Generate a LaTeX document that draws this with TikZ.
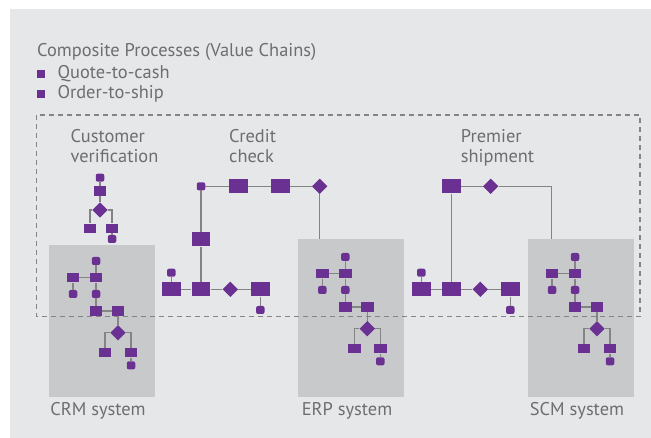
\documentclass[tikz,border=0pt]{standalone}
\usepackage{xcolor}
\usepackage{fontspec}
\setmainfont{PT Sans}
\usepackage{tikz}
\usetikzlibrary{shapes.geometric}

\definecolor{procpurple}{HTML}{6A3192}
\definecolor{sysgray}{HTML}{C8C9CB}
\definecolor{bggray}{HTML}{E6E7E8}
\definecolor{wiregray}{HTML}{848484}
\definecolor{txtgray}{HTML}{6D6E71}

\tikzset{
  bigbox/.style={rectangle, fill=procpurple, minimum width=18.7pt, minimum height=14.3pt, inner sep=0pt},
  smallbox/.style={rectangle, fill=procpurple, minimum width=12.5pt, minimum height=9.5pt, inner sep=0pt},
  event/.style={rectangle, rounded corners=2pt, fill=procpurple, minimum width=8.5pt, minimum height=8pt, inner sep=0pt},
  gate/.style={diamond, fill=procpurple, minimum width=15.5pt, minimum height=15.5pt, inner sep=0pt},
  bullet/.style={rectangle, fill=procpurple, minimum size=8pt, inner sep=0pt},
  sysbox/.style={rectangle, fill=sysgray, minimum width=106pt, inner sep=0pt, anchor=north west},
  wire/.style={draw=wiregray, line width=1.4pt},
  caption/.style={text=txtgray, font=\fontsize{18.4}{20}\selectfont, inner sep=0pt},
}

\begin{document}
\begin{tikzpicture}[x=1pt, y=-1pt]
  \useasboundingbox (0,0) rectangle (651,438);
  \fill[bggray] (10,9) rectangle (651,438);

  % Legend
  \node[caption, anchor=base west] (title) at (37,56.7) {Composite Processes (Value Chains)};
  \node[bullet] (q-mark) at (40.7,74.3) {};
  \node[caption, anchor=base west] (q-text) at (57.3,79) {Quote-to-cash};
  \node[bullet] (o-mark) at (40.7,94.3) {};
  \node[caption, anchor=base west] (o-text) at (57.3,99) {Order-to-ship};

  % System boxes and their names
  \foreach \n/\bx/\by/\h/\t in {crm/49/245/152/CRM system, erp/298/239/158/ERP system, scm/528/239/158/SCM system}{
    \node[sysbox, minimum height=\h pt] (\n) at (\bx,\by) {};
    \node[caption, anchor=base] (\n-name) at (\bx+49,416) {\t};
  }

  % Composite process frame
  \draw[draw=wiregray, line width=1.2pt, dash pattern=on 5pt off 4pt] (36.7,115) rectangle (640,316.7);

  % Flow inside each system
  \foreach \n/\ax/\ay in {crm/73/277.7, erp/322.3/273.7, scm/552/273.7}{
    \begin{scope}[shift={(\ax,\ay)}]
      \node[event] (\n-top) at (23,-16.7) {};
      \node[smallbox] (\n-a) at (0,0) {};
      \node[smallbox] (\n-b) at (23,0) {};
      \node[event] (\n-ea) at (0,16.3) {};
      \node[event] (\n-eb) at (23,16.3) {};
      \node[smallbox] (\n-c) at (23,33.3) {};
      \node[smallbox] (\n-d) at (45,33.3) {};
      \node[gate] (\n-g) at (45,55) {};
      \node[smallbox] (\n-l) at (32,75) {};
      \node[smallbox] (\n-r) at (58,75) {};
      \node[event] (\n-er) at (58,87.6) {};
      \draw[wire] (\n-top) -- (\n-b) -- (\n-eb) -- (\n-c) -- (\n-d) -- (\n-g);
      \draw[wire] (\n-a) -- (\n-b);
      \draw[wire] (\n-a) -- (\n-ea);
      \draw[wire] (\n-g) -| (\n-l);
      \draw[wire] (\n-g) -| (\n-r) -- (\n-er);
    \end{scope}
  }

  % Customer verification
  \node[caption, align=left, anchor=base west] (cv-title) at (70.5,163) {Customer\\verification};
  \node[event] (cv-e) at (100,177.7) {};
  \node[smallbox] (cv-a) at (100,191) {};
  \node[gate] (cv-g) at (100,210) {};
  \node[smallbox] (cv-l) at (90,228.3) {};
  \node[smallbox] (cv-r) at (112,228.3) {};
  \node[event] (cv-er) at (112,239) {};
  \draw[wire] (cv-e) -- (cv-a) -- (cv-g);
  \draw[wire] (cv-g) -| (cv-l);
  \draw[wire] (cv-g) -| (cv-r) -- (cv-er);

  % Credit check
  \node[caption, align=left, anchor=base west] (cc-title) at (229,163) {Credit\\check};
  \node[event] (cc-s) at (201,186.3) {};
  \node[bigbox] (cc-a) at (238.3,186.3) {};
  \node[bigbox] (cc-b) at (280.3,186.3) {};
  \node[gate] (cc-g) at (319.7,186.3) {};
  \node[bigbox] (cc-v) at (201,239.3) {};
  \node[event] (cb-e1) at (171.3,272.7) {};
  \node[bigbox] (cb-a) at (171.3,289.3) {};
  \node[bigbox] (cb-b) at (201,289.3) {};
  \node[gate] (cb-g) at (230.3,289.3) {};
  \node[bigbox] (cb-c) at (260.3,289.3) {};
  \node[event] (cb-e2) at (260.3,310) {};
  \draw[wire] (cc-s) -- (cc-a) -- (cc-b) -- (cc-g) -- (cc-g |- erp.north);
  \draw[wire] (cc-s) -- (cc-v) -- (cb-b);
  \draw[wire] (cb-e1) -- (cb-a) -- (cb-b) -- (cb-g) -- (cb-c) -- (cb-e2);

  % Premier shipment
  \node[caption, align=left, anchor=base west] (ps-title) at (460.7,163) {Premier\\shipment};
  \node[bigbox] (ps-a) at (451.3,186.3) {};
  \node[gate] (ps-g) at (490.7,186.3) {};
  \coordinate (ps-turn) at (551.7,186.3);
  \node[event] (pb-e1) at (421.3,272.7) {};
  \node[bigbox] (pb-a) at (421.3,289.3) {};
  \node[bigbox] (pb-b) at (451.3,289.3) {};
  \node[gate] (pb-g) at (480.3,289.3) {};
  \node[bigbox] (pb-c) at (510.3,289.3) {};
  \node[event] (pb-e2) at (510.3,310) {};
  \draw[wire] (ps-a) -- (ps-g) -- (ps-turn) -- (ps-turn |- scm.north);
  \draw[wire] (ps-a) -- (pb-b);
  \draw[wire] (pb-e1) -- (pb-a) -- (pb-b) -- (pb-g) -- (pb-c) -- (pb-e2);
\end{tikzpicture}
\end{document}
